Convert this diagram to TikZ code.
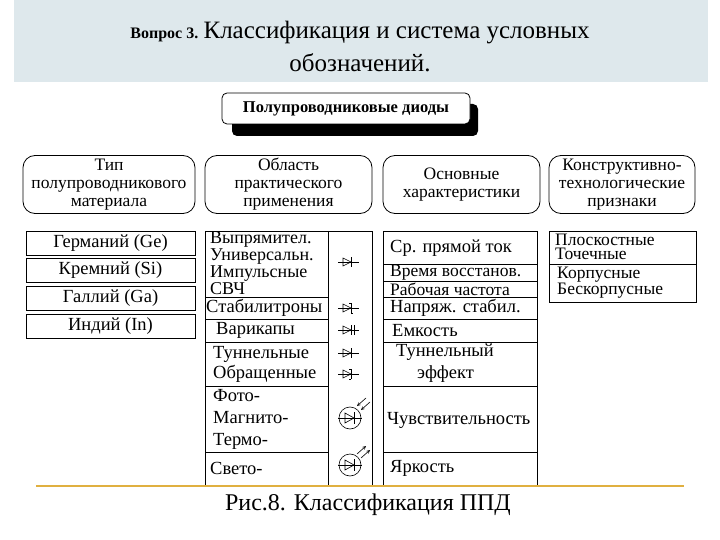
\documentclass[tikz,border=0pt]{standalone}
\usepackage{fontspec}
\setmainfont{Liberation Serif}
\begin{document}
\begin{tikzpicture}[x=1pt,y=-1pt,
  hdr/.style={draw,rounded corners=12pt,line width=0.8pt,align=center,font=\fontsize{17.5}{18}\selectfont,inner sep=0pt},
  cell/.style={draw,line width=0.8pt},
  txt/.style={font=\fontsize{18.5}{18}\selectfont,inner sep=0pt},
  dio/.style={line width=0.6pt}]
\useasboundingbox (0,0) rectangle (720,540);
\fill[fill={rgb,255:red,222;green,232;blue,236}] (14,0) rectangle (708,82);
\node[inner sep=0pt,anchor=base] (q) at (360,39) {\fontsize{16}{16}\selectfont\bfseries Вопрос 3. \fontsize{25}{25}\selectfont\mdseries Классификация и система условных};
\node[inner sep=0pt,anchor=base,font=\fontsize{25}{25}\selectfont] (q2) at (360,72) {обозначений.};
% title
\fill[rounded corners=5pt] (232,104) rectangle (478,136);
\node[draw,fill=white,rounded corners=5pt,line width=0.8pt,minimum width=248pt,minimum height=31pt,font=\fontsize{16.5}{16}\selectfont\bfseries] (t) at (346,108.5) {Полупроводниковые диоды};
% headers
\node[hdr,minimum width=172pt,minimum height=58pt] (h1) at (109,184.5) {Тип\\полупроводникового\\материала};
\node[hdr,minimum width=167pt,minimum height=58pt] (h2) at (288.5,184.5) {Область\\практического\\применения};
\node[hdr,minimum width=157pt,minimum height=58pt] (h3) at (461.5,184.5) {Основные\\характеристики};
\node[hdr,minimum width=146pt,minimum height=58pt] (h4) at (622,184.5) {Конструктивно-\\технологические\\признаки};
% column 1
\foreach \y/\t [count=\i] in {231/Германий (Ge),258/Кремний (Si),286/Галлий (Ga),314/Индий (In)}{
  \draw[cell] (26,\y) rectangle (195,\y+24);
  \node[txt] (m\i) at (110.5,\y+12) {\t};
}
% column 2
\draw[cell] (205,231) rectangle (372,485);
\draw[cell] (328,231) -- (328,485);
\foreach \y in {297,319,342,386,452} \draw[cell] (205,\y) -- (328,\y);
\node[txt,anchor=north west,align=left,font=\fontsize{18}{15.5}\selectfont] (a1) at (210,232) {Выпрямител.\\Универсальн.\\Импульсные\\СВЧ};
\node[txt,anchor=west] (a2) at (206,308) {Стабилитроны};
\node[txt,anchor=west] (a3) at (216,330.5) {Варикапы};
\node[txt,anchor=west,align=left,font=\fontsize{18.5}{20}\selectfont] (a4) at (213,364) {Туннельные\\Обращенные};
\node[txt,anchor=west,align=left,font=\fontsize{18.5}{22}\selectfont] (a5) at (213,419) {Фото-\\Магнито-\\Термо-};
\node[txt,anchor=west] (a6) at (210,468) {Свето-};
% diode symbols
\foreach \y in {262,308,330,353,374}{
  \draw[dio] (338,\y)--(359,\y);
  \draw[dio] (343,\y-4)--(343,\y+4)--(351,\y)--cycle;
  \draw[dio] (351,\y-5)--(351,\y+5);
}
\draw[dio] (349,303)--(351,303);
\draw[dio] (351,313)--(353,313);
\draw[dio] (354,325)--(354,335);
\draw[dio] (349,369)--(351,369);
\draw[dio] (349,379)--(351,379);
\foreach \y in {418,465}{
  \draw[dio] (350,\y) circle (11);
  \draw[dio] (338,\y)--(362,\y);
  \draw[dio] (345,\y-5)--(345,\y+5)--(354,\y)--cycle;
  \draw[dio] (354,\y-6)--(354,\y+6);
}
\draw[dio,-stealth] (366,398)--(357,406);
\draw[dio,-stealth] (370,402)--(361,410);
\draw[dio,-stealth] (357,454)--(366,446);
\draw[dio,-stealth] (361,458)--(370,450);
% column 3
\draw[cell] (383,231) rectangle (537,485);
\foreach \y in {264,281,297,319,342,386,452} \draw[cell] (383,\y) -- (537,\y);
\node[txt,anchor=west] (c1) at (390,248) {Ср. прямой ток};
\node[txt,anchor=west,font=\fontsize{17.5}{17}\selectfont] (c2) at (390,272.5) {Время восстанов.};
\node[txt,anchor=west,font=\fontsize{17.5}{17}\selectfont] (c3) at (390,289) {Рабочая частота};
\node[txt,anchor=west] (c4) at (390,308) {Напряж. стабил.};
\node[txt,anchor=west] (c5) at (392,330.5) {Емкость};
\node[txt,anchor=west] (c6) at (396,352) {Туннельный};
\node[txt,anchor=west] (c7) at (417,374) {эффект};
\node[txt,anchor=west] (c8) at (387,420) {Чувствительность};
\node[txt,anchor=west] (c9) at (390,468) {Яркость};
% column 4
\draw[cell] (549,231) rectangle (696,302);
\draw[cell] (549,264) -- (696,264);
\node[txt,anchor=west,align=left,font=\fontsize{17.5}{14}\selectfont] (d1) at (555,247) {Плоскостные\\Точечные};
\node[txt,anchor=west,align=left,font=\fontsize{17.5}{14}\selectfont] (d2) at (557,283) {Корпусные\\Бескорпусные};
% bottom
\draw[line width=1.5pt,color={rgb,255:red,224;green,176;blue,64}] (36,486) -- (684,486);
\node[inner sep=0pt,anchor=base,font=\fontsize{24}{24}\selectfont] (cap) at (368,510) {Рис.8. Классификация ППД};
\end{tikzpicture}
\end{document}
